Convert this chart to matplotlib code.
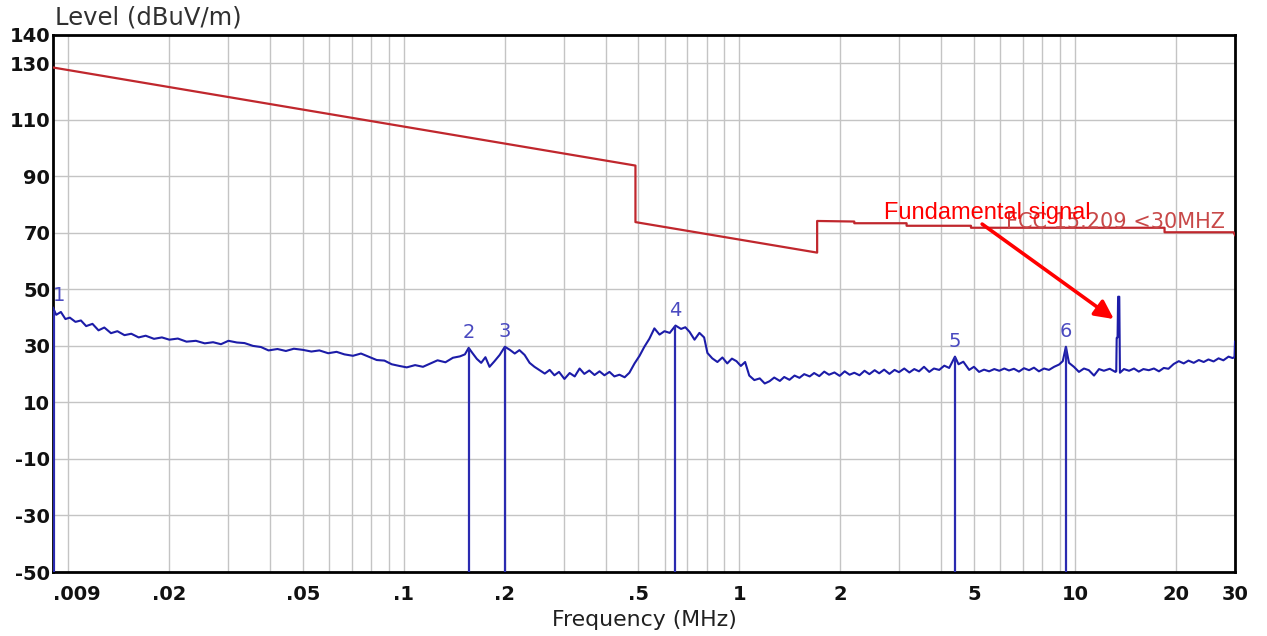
import matplotlib.pyplot as plt
from matplotlib.ticker import LogLocator, NullFormatter
from matplotlib.patches import FancyArrowPatch

# FCC 15.209 limit line (MHz, dBuV/m)
limit_freq = [0.009, 0.49, 0.49, 1.705, 1.705, 2.2, 2.2, 3.15, 3.15, 4.9, 4.9, 18.5, 18.5, 29.7, 30.0]
limit_level = [128.5, 93.8, 73.8, 63.0, 74.2, 74.0, 73.4, 73.4, 72.5, 72.5, 71.8, 71.8, 70.2, 70.2, 69.2]

trace_freq = [
    0.009, 0.0092, 0.0095, 0.0098, 0.0101, 0.0105, 0.0109, 0.0113, 0.0118, 0.0123,
    0.0128, 0.0134, 0.0140, 0.0147, 0.0154, 0.0162, 0.0170, 0.0180, 0.0190, 0.0200,
    0.0212, 0.0225, 0.0240, 0.0255, 0.0270, 0.0285, 0.0300, 0.0318, 0.0335, 0.0355,
    0.0375, 0.0395, 0.0420, 0.0445, 0.0470, 0.0500, 0.0530, 0.0560, 0.0595, 0.0630,
    0.0665, 0.0705, 0.0745, 0.0785, 0.0830, 0.0875, 0.0920, 0.0970, 0.1020, 0.1080,
    0.1140, 0.1200, 0.1260, 0.1330, 0.1400, 0.1470, 0.1520, 0.1560, 0.1600, 0.1650,
    0.1700, 0.1750, 0.1800, 0.1860, 0.1930, 0.2000, 0.2070, 0.2140, 0.2210, 0.2290,
    0.2370, 0.2450, 0.2540, 0.2630, 0.2720, 0.2810, 0.2900, 0.3010, 0.3120, 0.3230,
    0.3340, 0.3450, 0.3570, 0.3700, 0.3830, 0.3960, 0.4100, 0.4240, 0.4390, 0.4550,
    0.4700, 0.4870, 0.5040, 0.5210, 0.5390, 0.5580, 0.5780, 0.5980, 0.6200, 0.6450,
    0.6700, 0.6900, 0.7100, 0.7350, 0.7600, 0.7850, 0.8030, 0.8300, 0.8600, 0.8900,
    0.9200, 0.9500, 0.9800, 1.010, 1.040, 1.070, 1.108, 1.150, 1.190, 1.230,
    1.270, 1.320, 1.360, 1.410, 1.460, 1.510, 1.560, 1.620, 1.670, 1.730,
    1.790, 1.850, 1.920, 1.990, 2.060, 2.130, 2.200, 2.280, 2.360, 2.440,
    2.530, 2.610, 2.700, 2.800, 2.900, 2.990, 3.100, 3.210, 3.320, 3.430,
    3.550, 3.680, 3.800, 3.940, 4.080, 4.220, 4.390, 4.500, 4.650, 4.840,
    5.000, 5.180, 5.360, 5.550, 5.750, 5.950, 6.160, 6.360, 6.580, 6.810,
    7.050, 7.300, 7.550, 7.810, 8.090, 8.370, 8.670, 8.970, 9.200, 9.400,
    9.600, 9.930, 10.28, 10.64, 11.00, 11.40, 11.80, 12.20, 12.70, 13.20,
    13.28, 13.32, 13.40, 13.45, 13.56, 13.62, 14.00, 14.50, 15.00, 15.50,
    16.00, 16.60, 17.20, 17.80, 18.40, 19.00, 19.70, 20.40, 21.10, 21.80,
    22.60, 23.40, 24.20, 25.00, 25.90, 26.80, 27.70, 28.70, 29.50, 29.90, 30.00,
]
trace_level = [
    43.5, 41.0, 42.0, 39.5, 40.0, 38.5, 39.0, 37.0, 37.8, 35.5,
    36.5, 34.5, 35.2, 33.8, 34.3, 33.0, 33.6, 32.5, 33.0, 32.2,
    32.6, 31.5, 31.8, 30.9, 31.3, 30.6, 31.8, 31.2, 31.0, 30.0,
    29.6, 28.4, 28.9, 28.2, 29.0, 28.6, 28.0, 28.4, 27.4, 27.9,
    27.0, 26.5, 27.3, 26.2, 25.0, 24.8, 23.5, 22.9, 22.4, 23.2,
    22.6, 23.8, 24.9, 24.2, 25.8, 26.3, 27.0, 29.3, 27.5, 25.4,
    24.0, 26.0, 22.6, 24.5, 26.8, 29.7, 28.6, 27.3, 28.5, 26.8,
    24.0, 22.6, 21.4, 20.2, 21.5, 19.6, 20.8, 18.3, 20.4, 19.2,
    22.0, 20.1, 21.3, 19.7, 21.0, 19.6, 20.8, 19.2, 19.8, 18.9,
    20.5, 23.8, 26.5, 29.7, 32.5, 36.2, 34.0, 35.2, 34.6, 37.2,
    36.0, 36.6, 35.0, 32.2, 34.6, 33.0, 27.5, 25.6, 24.3, 25.9,
    23.8, 25.5, 24.6, 22.9, 24.3, 19.5, 17.9, 18.5, 16.7, 17.5,
    18.8, 17.6, 19.0, 18.0, 19.5, 18.7, 20.0, 19.2, 20.4, 19.3,
    20.9, 19.8, 20.6, 19.4, 21.0, 19.8, 20.5, 19.6, 21.2, 20.0,
    21.4, 20.3, 21.6, 20.1, 21.5, 20.7, 22.0, 20.6, 21.8, 21.0,
    22.6, 20.8, 22.0, 21.5, 23.0, 22.2, 26.2, 23.5, 24.4, 21.5,
    22.6, 20.8, 21.6, 21.0, 21.8, 21.2, 22.0, 21.3, 21.9, 20.9,
    22.1, 21.4, 22.3, 21.0, 22.0, 21.5, 22.6, 23.4, 24.6, 29.7,
    24.0, 22.6, 20.8, 22.0, 21.4, 19.5, 21.8, 21.2, 21.9, 20.8,
    21.0, 32.8, 33.0, 47.4, 47.4, 20.5, 21.8, 21.2, 22.0, 20.9,
    21.8, 21.4, 22.0, 21.0, 22.2, 21.9, 23.6, 24.6, 23.8, 24.8,
    24.0, 25.0, 24.3, 25.2, 24.5, 25.6, 24.9, 26.2, 25.7, 26.0, 31.5,
]

# peak markers
marker_names = ['1', '2', '3', '4', '5', '6']
marker_freq = [0.009, 0.156, 0.200, 0.645, 4.39, 9.40]
marker_level = [42.5, 29.3, 29.7, 37.2, 26.2, 29.7]

tick_freq = [0.009, 0.02, 0.05, 0.1, 0.2, 0.5, 1, 2, 5, 10, 20, 30]
tick_text = ['.009', '.02', '.05', '.1', '.2', '.5', '1', '2', '5', '10', '20', '30']
level_ticks = [140, 130, 110, 90, 70, 50, 30, 10, -10, -30, -50]

W, H = 1267, 636
fig = plt.figure(figsize=(W / 100, H / 100), dpi=100)
ax = fig.add_axes([53 / W, 1 - 572 / H, (1235 - 53) / W, (572 - 35) / H])

ax.set_xscale('log')
ax.set_xlim(0.009, 30)
ax.set_ylim(-50, 140)

ax.set_xticks(tick_freq)
ax.set_xticklabels(tick_text)
ax.xaxis.set_minor_locator(LogLocator(base=10, subs=range(1, 10), numticks=20))
ax.xaxis.set_minor_formatter(NullFormatter())
ax.set_yticks(level_ticks)
ax.set_yticklabels([str(v) for v in level_ticks])

ax.tick_params(axis='both', which='both', length=0, labelsize=14)
ax.tick_params(axis='x', pad=9)
ax.tick_params(axis='y', pad=2)
for lab in ax.get_xticklabels() + ax.get_yticklabels():
    lab.set_fontweight('bold')
    lab.set_color('#111111')
ax.get_xticklabels()[0].set_horizontalalignment('left')

ax.grid(True, which='both', color='#c4c4c4', linewidth=1.0)
ax.set_axisbelow(True)
for sp in ax.spines.values():
    sp.set_linewidth(2)
    sp.set_color('black')

# limit line + its name
ax.plot(limit_freq, limit_level, color='#c0272d', linewidth=1.6, zorder=3)
ax.text(28.1, 71.7, 'FCC 15.209 <30MHZ', color='#c84848', fontsize=15,
        ha='right', va='baseline', zorder=3)

# trace
ax.plot(trace_freq, trace_level, color='#1c1ca8', linewidth=1.5, zorder=4)

# markers
for name, f, lv in zip(marker_names, marker_freq, marker_level):
    lw = 3 if f == marker_freq[0] else 1.6
    ax.vlines(f, -50, lv, color='#2a2ab0', linewidth=lw, zorder=5)
    ax.annotate(name, (f, lv), xytext=(0, 4), textcoords='offset points',
                ha='left' if f == marker_freq[0] else 'center', va='bottom',
                fontsize=14, color='#4a4ac0', zorder=6)

# annotation for the fundamental (overlaps the limit name, as in the original)
ax.text(2.70, 74.8, 'Fundamental signal', color='#ff0000', fontsize=17,
        family='Liberation Sans', ha='left', va='baseline', zorder=7)
arrow = FancyArrowPatch((5.29, 73.1), (13.06, 39.5), arrowstyle='-|>',
                        mutation_scale=28, color='#ff0000', linewidth=2.6,
                        shrinkA=0, shrinkB=0, zorder=7)
ax.add_patch(arrow)

fig.text(55 / W, 1 - 17 / H, 'Level (dBuV/m)', fontsize=17.5, color='#303030',
         ha='left', va='center')
fig.text(644 / W, 1 - 620 / H, 'Frequency (MHz)', fontsize=15.8, color='#202020',
         ha='center', va='center')

fig.savefig('out.png', dpi=100)
